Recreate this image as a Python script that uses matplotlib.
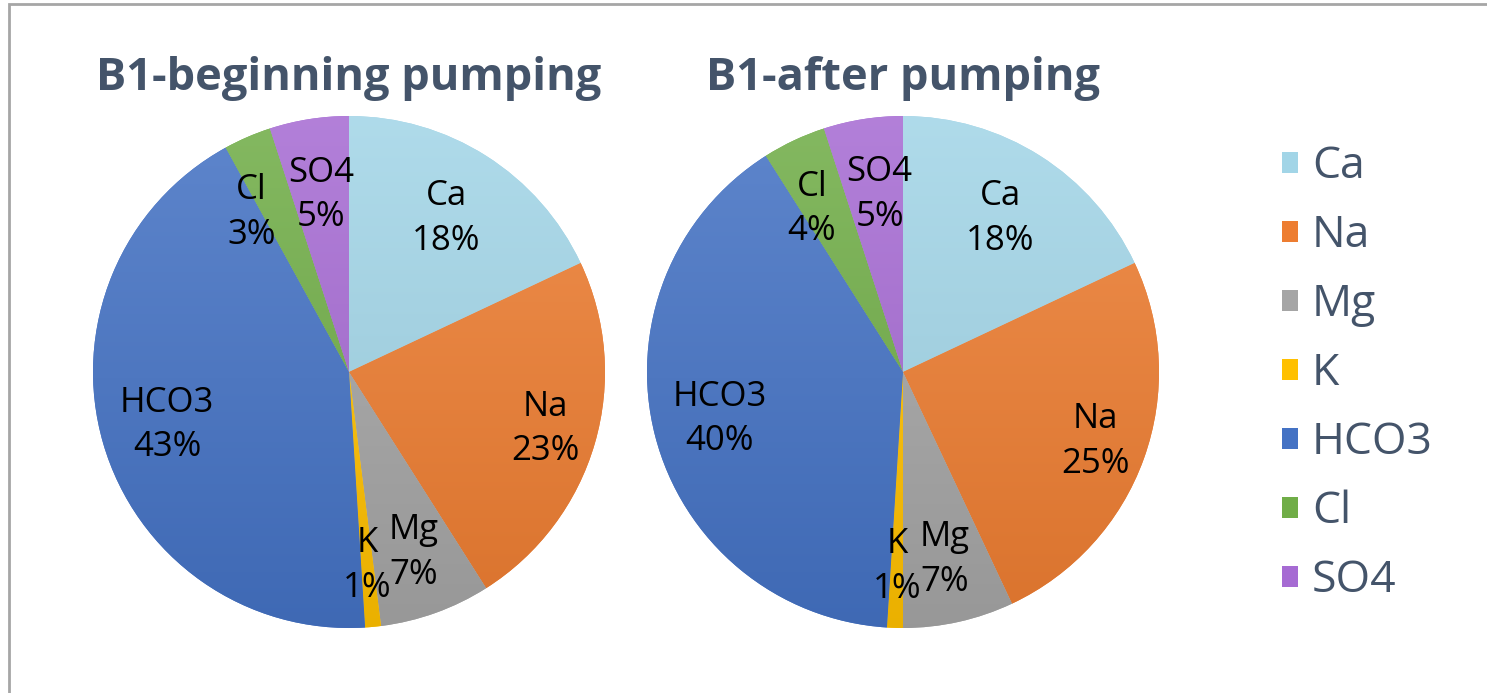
import numpy as np
import matplotlib.pyplot as plt
from matplotlib.colors import to_rgb
from matplotlib.patches import Rectangle, Patch

# ion composition of B1 water samples (% of total)
ions = ["Ca", "Na", "Mg", "K", "HCO3", "Cl", "SO4"]
b1_begin = [18, 23, 7, 1, 43, 3, 5]
b1_after = [18, 25, 7, 1, 40, 4, 5]
titles = ["B1-beginning pumping", "B1-after pumping"]

colors = ["#A2D5E7", "#ED7D31", "#A5A5A5", "#FFC000", "#4472C4", "#70AD47", "#A66BD3"]
label_r = [0.71, 0.80, 0.75, 0.76, 0.74, 0.73, 0.70]

W, H = 1487, 693
fig = plt.figure(figsize=(W / 100, H / 100), dpi=100)
fig.patch.set_facecolor("white")

# thin grey frame (only the top and left edges fall inside the image)
fig.patches.append(Rectangle((9 / W, -0.5), 2, (H - 4) / H + 0.5, transform=fig.transFigure,
                             fill=False, edgecolor="#A6A6A6", linewidth=2))

title_color = "#44546A"
font = "Open Sans"


def grad_colors(c):
    c = np.array(to_rgb(c))
    top = c * 0.86 + 0.14
    bot = c * 0.92
    return top, bot


def draw_pie(cx, values, title, nudge=None):
    nudge = nudge or {}
    r = 256
    ax = fig.add_axes([(cx - r) / W, (H - 372 - r) / H, 2 * r / W, 2 * r / H])
    wedges, _ = ax.pie(values, colors=colors, startangle=90, counterclock=False,
                       radius=1, wedgeprops=dict(linewidth=0))
    ax.set_xlim(-1, 1)
    ax.set_ylim(-1, 1)
    ax.axis("off")

    # soft vertical gradient inside each slice
    yy = np.linspace(1, 0, 256)[:, None, None]
    for w, c in zip(wedges, colors):
        top, bot = grad_colors(c)
        img = yy * top + (1 - yy) * bot
        img = np.repeat(img, 2, axis=1)
        im = ax.imshow(img, extent=(-1, 1, -1, 1), origin="upper", zorder=2, aspect="auto")
        im.set_clip_path(w)

    for w, name, v, rr in zip(wedges, ions, values, label_r):
        ang = np.deg2rad((w.theta1 + w.theta2) / 2 + nudge.get(name, 0))
        ax.text(rr * np.cos(ang), rr * np.sin(ang), f"{name}\n{v}%", ha="center", va="center",
                fontsize=25, color="black", linespacing=1.4, zorder=5, family=font)

    fig.text(cx / W, (H - 90) / H, title, ha="center", va="baseline", fontsize=32.5,
             fontweight="bold", color=title_color, family=font)


# the thin Cl slice labels are shifted a little so they clear SO4
draw_pie(349, b1_begin, titles[0], nudge={"Cl": 8})
draw_pie(903, b1_after, titles[1], nudge={"Cl": 4, "SO4": -1.5})

handles = [Patch(facecolor=c, edgecolor="none") for c in colors]
fig.legend(handles, ions, loc="center left", bbox_to_anchor=(1242 / W, (H - 374) / H),
           frameon=False, labelcolor=title_color, handlelength=0.35, handleheight=0.35,
           handletextpad=0.32, labelspacing=0.55, prop=dict(family=font, size=32))

fig.savefig("out.png", dpi=100, facecolor="white")
